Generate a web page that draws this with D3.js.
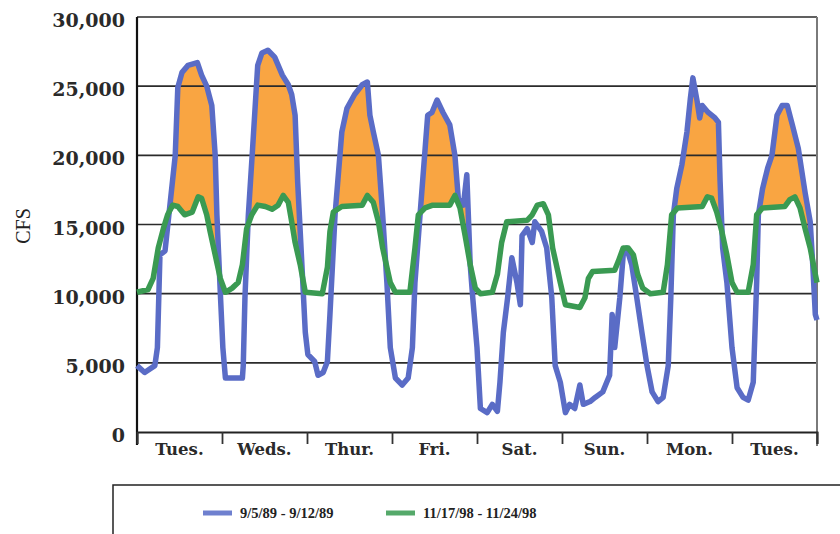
<!DOCTYPE html>
<html>
<head>
<meta charset="utf-8">
<script src="https://cdn.jsdelivr.net/npm/d3@7"></script>
<style>
  body { margin: 0; background: #fff; }
  svg { display: block; }
</style>
</head>
<body>
<div id="chart"></div>
<script>
// day labels under the axis
var days = ["Tues.", "Weds.", "Thur.", "Fri.", "Sat.", "Sun.", "Mon.", "Tues."];
var yTicks = [0, 5000, 10000, 15000, 20000, 25000, 30000];
var seriesNames = ["9/5/89 - 9/12/89", "11/17/98 - 11/24/98"];

// [day, cfs]
var flow1989 = [
  [0.00, 4800], [0.09, 4300], [0.21, 4800], [0.24, 6100], [0.27, 12800], [0.33, 13100],
  [0.45, 20000], [0.48, 24900], [0.53, 26000], [0.60, 26500], [0.71, 26700], [0.76, 25800],
  [0.82, 25000], [0.88, 23600], [0.92, 20000], [0.94, 15700], [0.98, 10100], [1.01, 6100],
  [1.04, 3900], [1.24, 3900], [1.25, 4800], [1.27, 9700], [1.31, 15700], [1.36, 20500],
  [1.42, 26500], [1.47, 27400], [1.54, 27600], [1.62, 27100], [1.71, 25800], [1.78, 25100],
  [1.82, 24400], [1.86, 22900], [1.89, 18100], [1.94, 12100], [1.98, 7200], [2.01, 5600],
  [2.09, 5100], [2.13, 4100], [2.19, 4300], [2.24, 5100], [2.27, 8500], [2.33, 15700],
  [2.41, 21700], [2.47, 23400], [2.56, 24400], [2.65, 25100], [2.71, 25300], [2.74, 22900],
  [2.78, 21700], [2.84, 20000], [2.89, 15700], [2.94, 10800], [2.98, 6100], [3.04, 3900],
  [3.12, 3400], [3.19, 3900], [3.24, 6100], [3.27, 10800], [3.33, 15700], [3.39, 20500],
  [3.42, 22900], [3.47, 23100], [3.53, 24000], [3.60, 23100], [3.68, 22200], [3.74, 20000],
  [3.78, 16900], [3.84, 16400], [3.88, 18600], [3.92, 12100], [3.95, 9700], [4.00, 6100],
  [4.04, 1700], [4.12, 1400], [4.18, 2000], [4.24, 1500], [4.27, 3600], [4.31, 7200],
  [4.36, 9700], [4.41, 12600], [4.47, 10800], [4.51, 9200], [4.53, 14200], [4.59, 14700],
  [4.65, 13700], [4.68, 15200], [4.76, 14500], [4.82, 13300], [4.88, 9700], [4.92, 4800],
  [4.98, 3600], [5.04, 1400], [5.09, 2000], [5.15, 1700], [5.21, 3400], [5.25, 2000],
  [5.33, 2200], [5.39, 2500], [5.48, 2900], [5.56, 4100], [5.59, 8500], [5.62, 6100],
  [5.68, 9700], [5.72, 12800], [5.76, 13300], [5.82, 12100], [5.88, 9700], [5.94, 7200],
  [6.00, 4800], [6.06, 2900], [6.13, 2200], [6.19, 2500], [6.25, 4800], [6.28, 9700],
  [6.31, 15700], [6.35, 17600], [6.41, 19300], [6.47, 21700], [6.51, 24100], [6.54, 25600],
  [6.59, 23900], [6.62, 22700], [6.65, 23600], [6.72, 23100], [6.80, 22700], [6.84, 22400],
  [6.86, 18100], [6.89, 13300], [6.94, 10800], [7.00, 6100], [7.06, 3200], [7.13, 2500],
  [7.19, 2300], [7.25, 3600], [7.29, 10800], [7.31, 15700], [7.36, 17600], [7.42, 19100],
  [7.47, 20000], [7.53, 22900], [7.59, 23600], [7.65, 23600], [7.71, 22200], [7.78, 20500],
  [7.86, 17300], [7.92, 15200], [7.95, 12100], [7.98, 8500], [8.00, 8100]
];

var flow1998 = [
  [0.00, 10100], [0.13, 10300], [0.19, 11100], [0.25, 13300], [0.31, 14700], [0.36, 15700],
  [0.42, 16400], [0.48, 16300], [0.56, 15700], [0.65, 15900], [0.72, 17000], [0.76, 16900],
  [0.82, 15700], [0.86, 14500], [0.92, 12800], [0.98, 11100], [1.04, 10100], [1.12, 10400],
  [1.19, 10800], [1.24, 12100], [1.29, 14700], [1.35, 15700], [1.42, 16400], [1.51, 16300],
  [1.59, 16100], [1.66, 16400], [1.72, 17100], [1.78, 16600], [1.82, 15200], [1.86, 13700],
  [1.92, 12100], [1.98, 10100], [2.18, 10000], [2.24, 11900], [2.27, 14500], [2.31, 15900],
  [2.41, 16300], [2.65, 16400], [2.71, 17100], [2.78, 16600], [2.84, 15200], [2.89, 13300],
  [2.98, 10800], [3.04, 10100], [3.21, 10100], [3.27, 13300], [3.31, 15700], [3.39, 16200],
  [3.48, 16400], [3.68, 16400], [3.74, 17100], [3.80, 16200], [3.86, 14200], [3.92, 12100],
  [3.98, 10400], [4.04, 10000], [4.18, 10100], [4.24, 11400], [4.29, 13700], [4.35, 15200],
  [4.59, 15300], [4.65, 15700], [4.71, 16400], [4.78, 16500], [4.84, 15700], [4.89, 13300],
  [4.98, 10800], [5.04, 9200], [5.21, 9000], [5.27, 9700], [5.31, 11100], [5.36, 11600],
  [5.62, 11700], [5.66, 12300], [5.72, 13300], [5.78, 13300], [5.84, 12800], [5.89, 11400],
  [5.95, 10400], [6.04, 10000], [6.19, 10100], [6.24, 12100], [6.29, 15700], [6.36, 16200],
  [6.65, 16300], [6.71, 17000], [6.76, 16900], [6.82, 15900], [6.88, 14500], [6.94, 12800],
  [7.00, 10800], [7.06, 10100], [7.19, 10100], [7.25, 12100], [7.29, 15700], [7.36, 16200],
  [7.62, 16300], [7.68, 16800], [7.74, 17000], [7.80, 16200], [7.86, 14700], [7.92, 13300],
  [7.98, 11400], [8.00, 10800]
];

var blue = "#5a6cc6", green = "#3a9a52", orange = "#f9a542";
var serif = "'DejaVu Serif', serif";

var svg = d3.select("#chart").append("svg")
    .attr("width", 840)
    .attr("height", 534);

var x = d3.scaleLinear().domain([0, days.length]).range([137, 817]);
var y = d3.scaleLinear().domain([0, 30000]).range([432, 17]);

// value of a piecewise series at day t (for the shaded gap only)
function valueAt(series, t) {
    var i = d3.bisector(function(d) { return d[0]; }).left(series, t);
    if (i <= 0) return series[0][1];
    if (i >= series.length) return series[series.length - 1][1];
    var a = series[i - 1], b = series[i];
    return a[1] + (b[1] - a[1]) * (t - a[0]) / (b[0] - a[0]);
}

var grid = d3.range(0, 8.0001, 0.004);
var fillArea = d3.area()
    .x(function(t) { return x(t); })
    .y0(function(t) { return y(valueAt(flow1998, t)); })
    .y1(function(t) { return y(Math.max(valueAt(flow1989, t), valueAt(flow1998, t))); });

svg.append("path")
    .datum(grid)
    .attr("d", fillArea)
    .attr("fill", orange);

// gridlines
svg.append("g")
    .selectAll("line")
    .data(yTicks.slice(1))
    .enter().append("line")
    .attr("x1", x(0)).attr("x2", x(8))
    .attr("y1", function(d) { return y(d); })
    .attr("y2", function(d) { return y(d); })
    .attr("stroke", "#2b2b2b")
    .attr("stroke-width", 1.6);

// right frame
svg.append("line")
    .attr("x1", x(8)).attr("x2", x(8))
    .attr("y1", y(30000)).attr("y2", y(0) + 14)
    .attr("stroke", "#7a7a7a")
    .attr("stroke-width", 2);

// y labels
var yAxis = svg.append("g")
    .attr("transform", "translate(" + x(0) + ",0)")
    .call(d3.axisLeft(y).tickValues(yTicks).tickSize(0).tickPadding(12).tickFormat(d3.format(",")));
yAxis.select(".domain").attr("stroke", "#111").attr("stroke-width", 2.2)
    .attr("d", "M0," + y(30000) + "V" + (y(0) + 13));
yAxis.selectAll("text")
    .attr("font-family", serif)
    .attr("font-weight", "bold")
    .attr("font-size", 19)
    .attr("fill", "#2a2a2a")
    .attr("dy", "0.5em");

// x axis with day separators
var xAxis = svg.append("g")
    .attr("transform", "translate(0," + y(0) + ")")
    .call(d3.axisBottom(x).tickValues(d3.range(0, 9)).tickSize(12).tickFormat(""));
xAxis.select(".domain").attr("stroke", "#222").attr("stroke-width", 1.8);
xAxis.selectAll(".tick line").attr("stroke", "#333").attr("stroke-width", 1.8);

svg.append("g")
    .selectAll("text")
    .data(days)
    .enter().append("text")
    .attr("x", function(d, i) { return x(i + 0.5); })
    .attr("y", 455)
    .attr("text-anchor", "middle")
    .attr("font-family", serif)
    .attr("font-weight", "bold")
    .attr("font-size", 16.5)
    .attr("fill", "#2a2a2a")
    .text(function(d) { return d; });

svg.append("text")
    .attr("transform", "translate(30,226) rotate(-90)")
    .attr("text-anchor", "middle")
    .attr("font-family", "'Liberation Serif', serif")
    .attr("font-size", 20)
    .attr("fill", "#222")
    .text("CFS");

// the two weeks
var line = d3.line()
    .x(function(d) { return x(d[0]); })
    .y(function(d) { return y(d[1]); });

svg.append("path")
    .datum(flow1989)
    .attr("d", line)
    .attr("fill", "none")
    .attr("stroke", blue)
    .attr("stroke-width", 5.5)
    .attr("stroke-linejoin", "round");

svg.append("path")
    .datum(flow1998)
    .attr("d", line)
    .attr("fill", "none")
    .attr("stroke", green)
    .attr("stroke-width", 5.5)
    .attr("stroke-linejoin", "round");

// legend box, runs off the page
svg.append("rect")
    .attr("x", 113).attr("y", 485)
    .attr("width", 760).attr("height", 80)
    .attr("fill", "none")
    .attr("stroke", "#222")
    .attr("stroke-width", 1.5);

var legend = svg.append("g")
    .selectAll("g")
    .data(seriesNames)
    .enter().append("g")
    .attr("transform", function(d, i) { return "translate(" + (203 + i * 183) + ",513)"; });

legend.append("line")
    .attr("x1", 0).attr("x2", 29)
    .attr("stroke", function(d, i) { return i === 0 ? "#6f80cf" : "#55a96a"; })
    .attr("stroke-width", 5);

legend.append("text")
    .attr("x", 37)
    .attr("y", 5)
    .attr("font-family", "'Liberation Serif', serif")
    .attr("font-weight", "bold")
    .attr("font-size", 14.5)
    .attr("fill", "#222")
    .text(function(d) { return d; });
</script>
</body>
</html>
